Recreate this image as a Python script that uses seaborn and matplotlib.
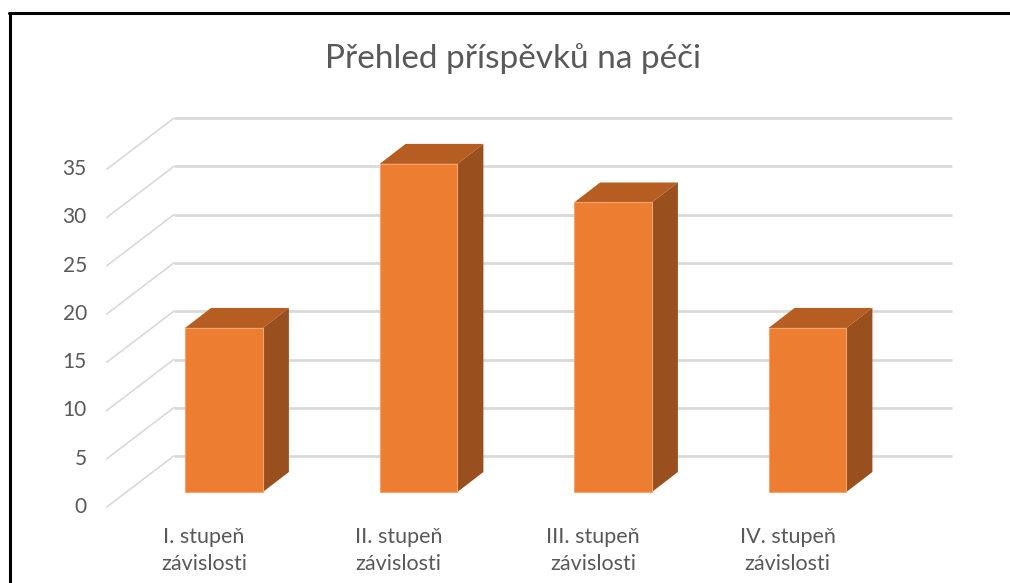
import matplotlib
matplotlib.use("Agg")
import matplotlib.pyplot as plt
import seaborn as sns
import pandas as pd
from matplotlib.patches import Polygon
from matplotlib.lines import Line2D

# data
categories = ["I. stupeň\nzávislosti", "II. stupeň\nzávislosti",
              "III. stupeň\nzávislosti", "IV. stupeň\nzávislosti"]
values = [17, 34, 30, 17]
y_ticks = [0, 5, 10, 15, 20, 25, 30, 35]
title = "Přehled příspěvků na péči"

# colours
front_c = "#ED7D31"
top_c = "#B65E22"
side_c = "#9A4F1E"
grid_c = "#D9D9D9"
text_c = "#595959"

sns.set_theme(style="white")
plt.rcParams['font.family'] = ['Lato', 'DejaVu Sans']

W, H = 1010, 583
fig = plt.figure(figsize=(W / 100, H / 100), dpi=100)
ax = fig.add_axes([0, 0, 1, 1])

df = pd.DataFrame({"cat": categories, "val": values})
sns.barplot(data=df, x="cat", y="val", color=front_c, saturation=1,
            width=0.4, edgecolor="#F4A46C", linewidth=0.8, ax=ax, zorder=3)

# pixel scale of the front plane of the bars
px_x, px_y = 194.5, 9.65
ax.set_xlim(-224 / px_x, (W - 224) / px_x)
ax.set_ylim((492 - H) / px_y, 492 / px_y)
ax.axis("off")

# oblique offsets (data units)
depth = (26 / px_x, 20 / px_y)      # bar depth
fx, fy = -20 / px_x, -15 / px_y     # floor front edge relative to bar front
wx, wy = 47 / px_x, 36 / px_y       # back wall relative to bar front
n = len(categories)

# back wall gridlines and side wall diagonals
for v in y_ticks:
    ax.plot([-0.5 + wx, n - 0.5 + wx], [v + wy, v + wy], color=grid_c, lw=2, zorder=1,
            solid_capstyle="butt")
    ax.plot([-0.5 + fx, -0.5 + wx], [v + fy, v + wy], color=grid_c, lw=1.2, zorder=1)
    ax.text(-0.5 + fx - 20 / px_x, v + fy, str(v), ha="right", va="center",
            fontsize=15, color=text_c)

# 3d faces of the bars
for p in ax.patches[:n]:
    x0, y0 = p.get_x(), p.get_y()
    x1, y1 = x0 + p.get_width(), y0 + p.get_height()
    dx, dy = depth
    top = Polygon([(x0, y1), (x1, y1), (x1 + dx, y1 + dy), (x0 + dx, y1 + dy)],
                  closed=True, facecolor=top_c, edgecolor="none", zorder=2.5)
    side = Polygon([(x1, y0), (x1 + dx, y0 + dy), (x1 + dx, y1 + dy), (x1, y1)],
                   closed=True, facecolor=side_c, edgecolor="none", zorder=2.5)
    ax.add_patch(top)
    ax.add_patch(side)

# category labels under the floor front edge
for i, c in enumerate(categories):
    ax.text(i + fx, fy - 20 / px_y, c, ha="center", va="top", fontsize=15.5,
            color=text_c, linespacing=1.45)

fig.text(513 / W, 1 - 68 / H, title, ha="center", va="baseline", fontsize=24,
         color=text_c)

# chart frame (only the top and left edges are in view)
fig.add_artist(Line2D([9.5 / W, 9.5 / W], [0, 1 - 12.5 / H], color="black", lw=2.2,
                      transform=fig.transFigure))
fig.add_artist(Line2D([8.5 / W, 1], [1 - 12.5 / H, 1 - 12.5 / H], color="black", lw=2.2,
                      transform=fig.transFigure))

fig.savefig("out.png", dpi=100, facecolor="white")
